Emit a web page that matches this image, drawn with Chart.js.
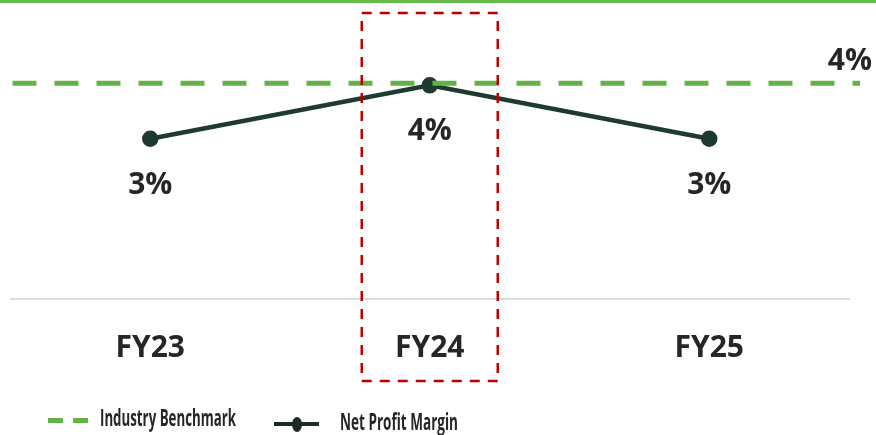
<!DOCTYPE html>
<html>
<head>
<meta charset="utf-8">
<script src="https://cdn.jsdelivr.net/npm/chart.js@4"></script>
<style>
  html, body { margin: 0; padding: 0; background: #fff; }
  #wrap { position: relative; width: 876px; height: 435px; overflow: hidden; }
  #c { position: absolute; left: 0; top: 0; }
  .lg { position: absolute; font-family: "Open Sans", sans-serif; font-weight: 700; font-size: 23px; color: #262626; white-space: nowrap; transform-origin: 0 0; line-height: 1; }
  .sw { position: absolute; }
</style>
</head>
<body>
<div id="wrap">
  <canvas id="c" width="876" height="435"></canvas>
  <div class="sw" style="left:48px;top:418px;width:15px;height:5px;background:#62b246"></div>
  <div class="sw" style="left:73px;top:418px;width:15px;height:5px;background:#62b246"></div>
  <span class="lg" id="lg1" style="left:100px;top:406px"></span>
  <div class="sw" style="left:274px;top:422px;width:45px;height:4px;background:#1d2b24"></div>
  <div class="sw" style="left:292px;top:417px;width:10px;height:15px;border-radius:50%;background:#1d2b24"></div>
  <span class="lg" id="lg2" style="left:340px;top:410px"></span>
</div>
<script>
const categories = ['FY23', 'FY24', 'FY25'];
const netProfitMargin = [3.0, 4.0, 3.0];
const industryBenchmark = [4.04];
const seriesNames = ['Industry Benchmark', 'Net Profit Margin'];
const highlightIndex = 1;

const FONT = '"Open Sans", sans-serif';
const TEXT = '#262626';
const LINE = '#1f3a2e';
const GREEN = '#62b246';

function fitText(id, text, w) {
  const el = document.getElementById(id);
  el.textContent = text;
  const nw = el.getBoundingClientRect().width;
  el.style.transform = 'scaleX(' + (w / nw) + ')';
}
fitText('lg1', seriesNames[0], 136);
fitText('lg2', seriesNames[1], 118);

const overlay = {
  id: 'overlay',
  afterDatasetsDraw(chart) {
    const ctx = chart.ctx;
    const ca = chart.chartArea;
    const xs = chart.scales.x, ys = chart.scales.y;
    ctx.save();
    // top green rule
    ctx.fillStyle = '#66bb4a';
    ctx.fillRect(0, 0, chart.width, 3);
    // benchmark dashed line
    const by = ys.getPixelForValue(industryBenchmark[0]);
    ctx.strokeStyle = GREEN;
    ctx.lineWidth = 5;
    ctx.setLineDash([24, 18]);
    ctx.beginPath();
    ctx.moveTo(ca.left + 2, by);
    ctx.lineTo(ca.right + 11, by);
    ctx.stroke();
    // benchmark label
    ctx.setLineDash([]);
    ctx.fillStyle = TEXT;
    ctx.font = 'bold 30px ' + FONT;
    ctx.textAlign = 'right';
    ctx.textBaseline = 'alphabetic';
    ctx.fillText(Math.round(industryBenchmark[0]) + '%', ca.right + 23, by - 13);
    // highlight box
    const hx = xs.getPixelForValue(highlightIndex);
    ctx.strokeStyle = '#c00000';
    ctx.lineWidth = 2.5;
    ctx.setLineDash([10, 8]);
    ctx.strokeRect(hx - 68, 13, 136, 368);
    ctx.setLineDash([]);
    // data labels
    const meta = chart.getDatasetMeta(0);
    ctx.textAlign = 'center';
    meta.data.forEach((pt, i) => {
      ctx.fillText(Math.round(netProfitMargin[i]) + '%', pt.x, pt.y + 55);
    });
    ctx.restore();
  }
};

new Chart(document.getElementById('c'), {
  type: 'line',
  data: {
    labels: categories,
    datasets: [{
      label: seriesNames[1],
      data: netProfitMargin,
      borderColor: LINE,
      backgroundColor: LINE,
      borderWidth: 4.5,
      pointRadius: 6,
      pointBackgroundColor: LINE,
      pointBorderColor: LINE,
      tension: 0
    }]
  },
  options: {
    responsive: false,
    animation: false,
    layout: { padding: { left: 9, right: 27, top: 1, bottom: 38 } },
    plugins: { legend: { display: false }, tooltip: { enabled: false } },
    scales: {
      x: {
        offset: true,
        grid: { display: false, drawTicks: false },
        border: { display: true, color: '#dcdde0', width: 2 },
        ticks: { color: TEXT, font: { family: FONT, size: 30, weight: 'bold' }, padding: 31 }
      },
      y: { display: false, min: 0, max: 5.4 }
    }
  },
  plugins: [overlay]
});
</script>
</body>
</html>
